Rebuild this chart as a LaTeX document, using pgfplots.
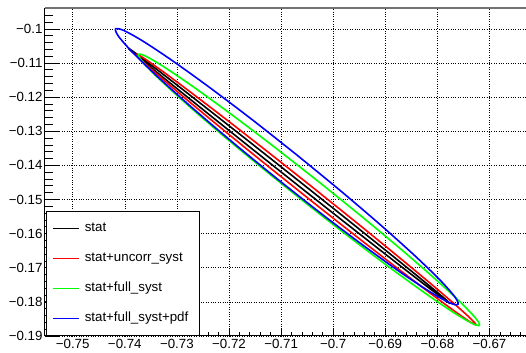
\documentclass[border=0pt]{standalone}
\usepackage{fontspec}
\setmainfont{Liberation Sans}
\usepackage{pgfplots}
\pgfplotsset{compat=1.18}
\begin{document}
\begin{tikzpicture}
\begin{axis}[
  scale only axis, width=481pt, height=328pt,
  xmin=-0.75532, xmax=-0.66299, ymin=-0.19, ymax=-0.09387,
  clip=false,
  axis lines*=left,
  axis line style={-, black, line width=1pt},
  tick align=inside,
  xtick={-0.76,-0.75,-0.74,-0.73,-0.72,-0.71,-0.70,-0.69,-0.68,-0.67,-0.66},
  ytick={-0.20,-0.19,-0.18,-0.17,-0.16,-0.15,-0.14,-0.13,-0.12,-0.11,-0.10,-0.09},
  minor x tick num=4, minor y tick num=4,
  xticklabel={−\pgfmathparse{-\tick}\pgfmathprintnumber[assume math mode=true, fixed, precision=2]{\pgfmathresult}},
  yticklabel={−\pgfmathparse{-\tick}\pgfmathprintnumber[assume math mode=true, fixed, precision=2]{\pgfmathresult}},
  ticklabel style={font=\fontsize{13.3}{15}\selectfont},
  yticklabel style={xshift=1pt},
  grid=major,
  major grid style={black, dotted, line width=0.6pt},
  tick style={black, line width=0.8pt},
  major tick length=15pt, minor tick length=8pt,
  xtick style={/pgfplots/major tick length=7pt, /pgfplots/minor tick length=3.5pt},
  legend image code/.code={\draw[#1, line width=1.3pt] (0pt,0pt) -- (26pt,0pt);},
  legend cell align=left,
  legend style={at={(rel axis cs:0.002,0)}, anchor=south west, draw=black, line width=1pt, fill=white,
    font=\fontsize{13.3}{15}\selectfont, inner xsep=6pt, inner ysep=11pt, row sep=18pt, column sep=5pt,
    nodes={inner sep=0pt, text height=9pt, text depth=3pt, text width=109pt, align=left}},
]
\coordinate (sw) at (rel axis cs:0,0);
\coordinate (ne) at (rel axis cs:1,1);
\draw[black!55, line width=1.2pt] (rel axis cs:0,1) -- (rel axis cs:1,1);

% stat
\addplot[black, line width=1.6pt, smooth, line join=round] coordinates {
(-0.70820,-0.14261) (-0.71619,-0.13295) (-0.72366,-0.12399) (-0.73009,-0.11632) (-0.73504,-0.11048) (-0.73818,-0.10685)
(-0.73929,-0.10570) (-0.73830,-0.10709) (-0.73528,-0.11094) (-0.73042,-0.11697) (-0.72407,-0.12478) (-0.71666,-0.13384)
(-0.70868,-0.14353) (-0.70069,-0.15319) (-0.69322,-0.16215) (-0.68680,-0.16982) (-0.68184,-0.17566) (-0.67870,-0.17929)
(-0.67759,-0.18044) (-0.67858,-0.17905) (-0.68160,-0.17520) (-0.68646,-0.16917) (-0.69281,-0.16136) (-0.70022,-0.15230)
(-0.70820,-0.14261)};
\addlegendentry{stat}

% stat+uncorr_syst
\addplot[red, line width=1.6pt, smooth, line join=round] coordinates {
(-0.70449,-0.14578) (-0.71295,-0.13556) (-0.72087,-0.12613) (-0.72773,-0.11813) (-0.73305,-0.11210) (-0.73646,-0.10846)
(-0.73775,-0.10744) (-0.73682,-0.10913) (-0.73373,-0.11340) (-0.72869,-0.11997) (-0.72205,-0.12839) (-0.71426,-0.13808)
(-0.70585,-0.14838) (-0.69740,-0.15860) (-0.68947,-0.16803) (-0.68261,-0.17603) (-0.67730,-0.18206) (-0.67388,-0.18571)
(-0.67259,-0.18672) (-0.67352,-0.18503) (-0.67662,-0.18076) (-0.68165,-0.17419) (-0.68829,-0.16577) (-0.69608,-0.15608)
(-0.70449,-0.14578)};
\addlegendentry{stat+uncorr\_syst}

% stat+full_syst
\addplot[green, line width=1.6pt, smooth, line join=round] coordinates {
(-0.70317,-0.14432) (-0.71169,-0.13414) (-0.71973,-0.12484) (-0.72675,-0.11707) (-0.73226,-0.11135) (-0.73588,-0.10806)
(-0.73738,-0.10744) (-0.73665,-0.10953) (-0.73374,-0.11418) (-0.72884,-0.12107) (-0.72230,-0.12975) (-0.71455,-0.13961)
(-0.70613,-0.14998) (-0.69761,-0.16016) (-0.68957,-0.16946) (-0.68255,-0.17723) (-0.67705,-0.18296) (-0.67342,-0.18624)
(-0.67192,-0.18686) (-0.67265,-0.18478) (-0.67557,-0.18013) (-0.68046,-0.17323) (-0.68700,-0.16455) (-0.69475,-0.15469)
(-0.70317,-0.14432)};
\addlegendentry{stat+full\_syst}

% stat+full_syst+pdf
\addplot[blue, line width=1.6pt, smooth, line join=round] coordinates {
(-0.70705,-0.13685) (-0.71562,-0.12652) (-0.72374,-0.11714) (-0.73084,-0.10934) (-0.73645,-0.10365) (-0.74019,-0.10046)
(-0.74179,-0.10000) (-0.74115,-0.10229) (-0.73832,-0.10717) (-0.73349,-0.11431) (-0.72697,-0.12323) (-0.71923,-0.13332)
(-0.71079,-0.14389) (-0.70222,-0.15422) (-0.69410,-0.16360) (-0.68700,-0.17141) (-0.68139,-0.17709) (-0.67765,-0.18028)
(-0.67605,-0.18074) (-0.67669,-0.17845) (-0.67952,-0.17357) (-0.68436,-0.16643) (-0.69087,-0.15751) (-0.69861,-0.14742)
(-0.70705,-0.13685)};
\addlegendentry{stat+full\_syst+pdf}
\end{axis}
\pgfresetboundingbox
\path ([xshift=-45pt,yshift=-17pt]sw) rectangle ([yshift=8pt]ne);
\end{tikzpicture}
\end{document}
